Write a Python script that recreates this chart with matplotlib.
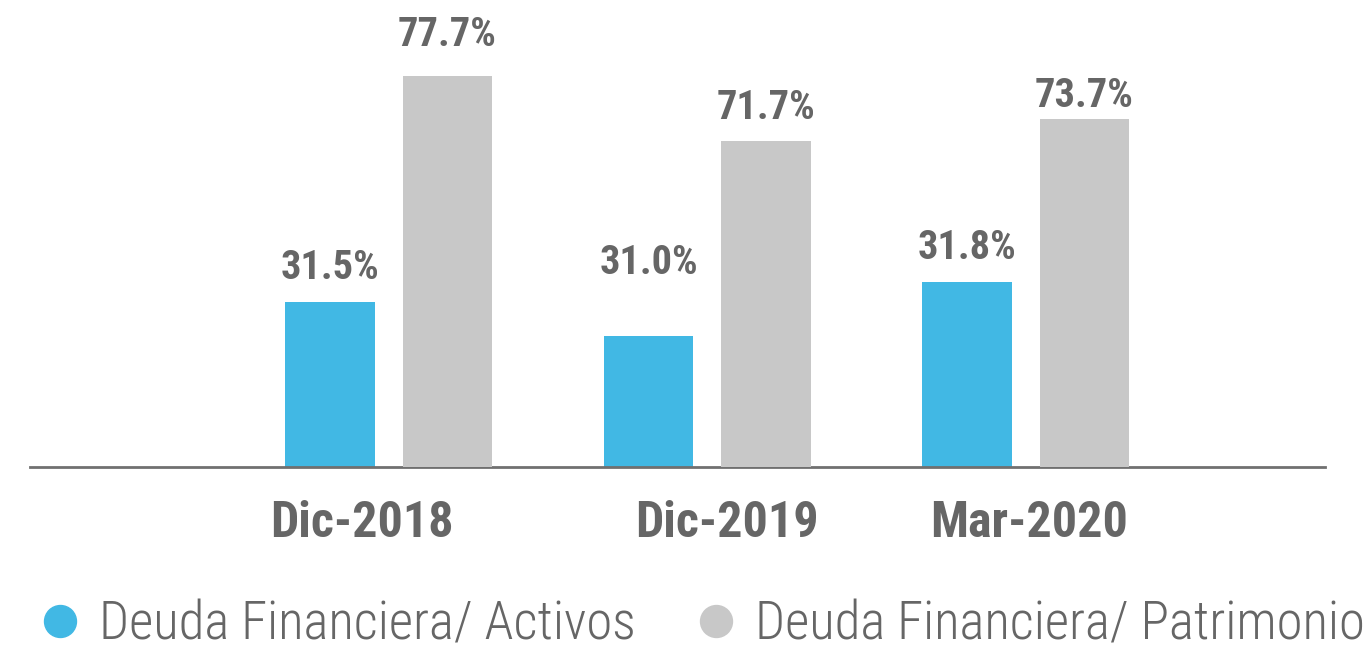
import matplotlib.pyplot as plt
from matplotlib.lines import Line2D
import numpy as np

# datos
periodos = ['Dic-2018', 'Dic-2019', 'Mar-2020']
deuda_activos = [31.5, 31.0, 31.8]
deuda_patrimonio = [77.7, 71.7, 73.7]
etiquetas_activos = ['31.5%', '31.0%', '31.8%']
etiquetas_patrimonio = ['77.7%', '71.7%', '73.7%']

AZUL = '#41B8E4'
GRIS = '#C8C8C8'
TEXTO = '#666666'
FUENTE = ['Roboto Condensed', 'Liberation Sans Narrow', 'Roboto']

fig = plt.figure(figsize=(13.68, 6.46), dpi=100)
ax = fig.add_axes([30/1368, (646-467)/646, 1295/1368, 467/646])
ax2 = ax.twinx()

x = np.arange(len(periodos))
ancho = 0.28
ax.bar(x - 0.185, deuda_activos, ancho, color=AZUL)
ax2.bar(x + 0.184, deuda_patrimonio, ancho, color=GRIS)

ax.set_ylim(29.05, 36.0)
ax2.set_ylim(41.1, 84.87)
ax.set_xlim(-1.127, 2.939)

# etiquetas de valores
for i in range(len(periodos)):
    ax.annotate(etiquetas_activos[i], (x[i] - 0.185, deuda_activos[i]),
                xytext=(0, [15, 54, 15][i]), textcoords='offset pixels',
                ha='center', va='bottom', fontsize=29, fontweight='bold',
                color=TEXTO, family=FUENTE)
    ax2.annotate(etiquetas_patrimonio[i], (x[i] + 0.184, deuda_patrimonio[i]),
                 xytext=(0, [22, 14, 4][i]), textcoords='offset pixels',
                 ha='center', va='bottom', fontsize=29, fontweight='bold',
                 color=TEXTO, family=FUENTE)

for a in (ax, ax2):
    for s in a.spines.values():
        s.set_visible(False)
    a.set_yticks([])
ax.spines['bottom'].set_visible(True)
ax.spines['bottom'].set_color('#707070')
ax.spines['bottom'].set_linewidth(2)

ax.set_xticks(x + np.array([-0.085, 0.06, 0.01]))
ax.set_xticklabels(periodos, fontsize=36, fontweight='bold', color=TEXTO,
                   family=FUENTE)
ax.tick_params(axis='x', length=0, pad=24)

handles = [Line2D([], [], marker='o', ls='none', color=AZUL, markersize=23),
           Line2D([], [], marker='o', ls='none', color=GRIS, markersize=23)]
fig.legend(handles, ['Deuda Financiera/ Activos', 'Deuda Financiera/ Patrimonio'],
           loc='center left', bbox_to_anchor=(34/1368, 1 - 625/646), ncol=2,
           frameon=False, handletextpad=0.24, columnspacing=1.02,
           prop={'family': FUENTE, 'size': 38, 'weight': 'light'},
           labelcolor=TEXTO, borderpad=0, borderaxespad=0, handlelength=1)

fig.savefig('out.png', dpi=100)
